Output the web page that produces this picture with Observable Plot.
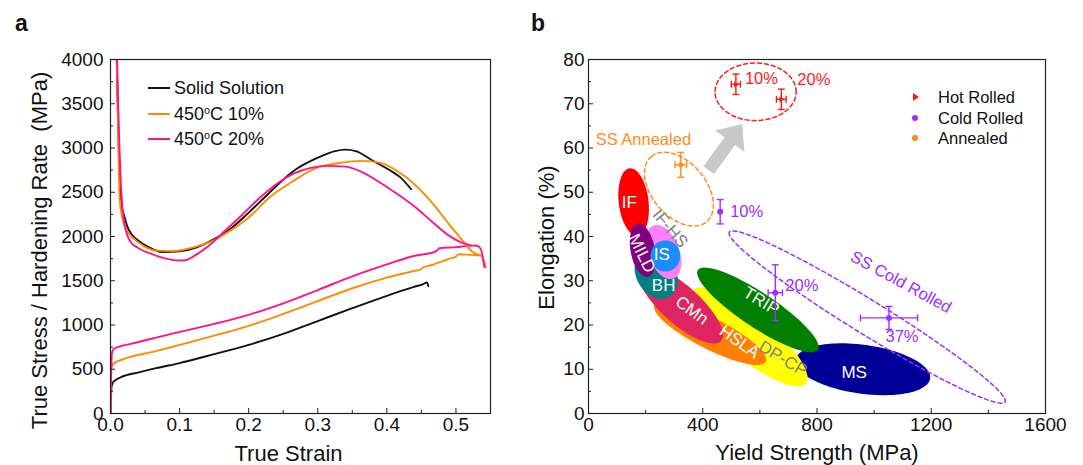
<!DOCTYPE html>
<html><head><meta charset="utf-8">
<script src="https://cdn.jsdelivr.net/npm/d3@7"></script>
<script src="https://cdn.jsdelivr.net/npm/@observablehq/plot@0.6"></script>
<style>
body{margin:0;background:#fff;font-family:"Liberation Sans",Arial,sans-serif;color:#111}
#wrap{position:relative;width:1083px;height:465px;display:flex;overflow:hidden}
#wrap svg{display:block}
.tag{position:absolute;font-weight:bold;font-size:23px;line-height:23px}
.lg{position:absolute;white-space:nowrap}
.lgA{font-size:18px;line-height:18px}
.lgB{font-size:16.5px;line-height:16.5px}
.ln{position:absolute;height:2px}
sup{font-size:0.6em;vertical-align:0.6em;line-height:0}
</style></head>
<body>
<div id="wrap"></div>
<script>
// ---------------- Panel a data ----------------
const ssStrain  = [0, 0.0015, 0.004, 0.016, 0.041, 0.066, 0.1, 0.14, 0.2, 0.25, 0.3, 0.35, 0.4, 0.439, 0.452, 0.458, 0.46];
const ssStress  = [0, 300, 357, 413, 465, 512, 570, 650, 775, 900, 1045, 1190, 1330, 1430, 1460, 1480, 1440];
const o10Strain = [0, 0.001, 0.0035, 0.021, 0.066, 0.1, 0.15, 0.2, 0.25, 0.3, 0.35, 0.4, 0.439, 0.45, 0.452, 0.464, 0.489, 0.5, 0.504, 0.515, 0.524, 0.536, 0.541, 0.5435];
const o10Stress = [0, 507, 560, 620, 705, 775, 880, 990, 1125, 1270, 1415, 1535, 1610, 1630, 1650, 1675, 1745, 1775, 1800, 1795, 1792, 1784, 1709, 1653];
const p20Strain = [0, 0.002, 0.005, 0.031, 0.066, 0.1, 0.15, 0.2, 0.25, 0.3, 0.35, 0.4, 0.439, 0.47, 0.474, 0.476, 0.5, 0.524, 0.53, 0.535, 0.538, 0.541];
const p20Stress = [0, 676, 732, 789, 858, 922, 1012, 1115, 1245, 1395, 1550, 1685, 1780, 1830, 1850, 1868, 1880, 1897, 1895, 1870, 1803, 1653];

const ssHStrain  = [0.009, 0.011, 0.013, 0.016, 0.02, 0.025, 0.03, 0.04, 0.055, 0.075, 0.1, 0.125, 0.15, 0.17, 0.2, 0.23, 0.265, 0.3, 0.325, 0.34, 0.355, 0.38, 0.405, 0.42, 0.435];
const ssHRate    = [4000, 3300, 2700, 2350, 2230, 2100, 2030, 1955, 1880, 1825, 1833, 1878, 1970, 2065, 2270, 2495, 2740, 2890, 2965, 2982, 2965, 2855, 2745, 2665, 2535];
const o10HStrain = [0.009, 0.011, 0.013, 0.016, 0.02, 0.028, 0.04, 0.066, 0.09, 0.12, 0.15, 0.18, 0.2, 0.23, 0.265, 0.3, 0.33, 0.365, 0.39, 0.415, 0.44, 0.465, 0.49, 0.51, 0.524, 0.535];
const o10HRate   = [4000, 3200, 2450, 2250, 2130, 2020, 1935, 1840, 1835, 1878, 1960, 2100, 2215, 2440, 2630, 2780, 2830, 2855, 2835, 2740, 2590, 2385, 2140, 1950, 1825, 1790];
const p20HStrain = [0.0095, 0.011, 0.013, 0.015, 0.017, 0.02, 0.025, 0.03, 0.04, 0.06, 0.08, 0.1, 0.11, 0.12, 0.14, 0.165, 0.19, 0.215, 0.24, 0.265, 0.29, 0.315, 0.34, 0.365, 0.39, 0.415, 0.44, 0.465, 0.49, 0.51, 0.522];
const p20HRate   = [4000, 3500, 3000, 2600, 2350, 2150, 2000, 1930, 1870, 1800, 1750, 1728, 1735, 1775, 1880, 2060, 2240, 2430, 2590, 2710, 2775, 2798, 2790, 2725, 2610, 2480, 2340, 2170, 2010, 1925, 1900];

const seriesA = ["Solid Solution", "450°C 10%", "450°C 20%"];
const colorsA = ["#111111", "#ff8c00", "#ff148c"];

const xTicksA = [0, 0.1, 0.2, 0.3, 0.4, 0.5];
const xMinorA = [0.05, 0.15, 0.25, 0.35, 0.45];
const yTicksA = [0, 500, 1000, 1500, 2000, 2500, 3000, 3500, 4000];
const yMinorA = [250, 750, 1250, 1750, 2250, 2750, 3250, 3750];

// ---------------- Panel b data ----------------
const regionNames  = ["MS", "DP-CP", "TRIP", "HSLA", "CMn", "BH", "IF", "IF-HS", "MILD", "IS"];
const regionYS     = [960, 563, 593, 426, 322, 237, 158, 263, 190, 269];
const regionEl     = [10.0, 17.3, 23.4, 18.1, 24.6, 31.5, 47.8, 36.5, 36.9, 35.6];
const regionTipYS  = [236, -198, -210, -195, -142, -47, -14, -35, -17.5, 52];
const regionTipEl  = [-2.1, 10.5, 9.0, 6.4, 8.2, 5.1, 7.6, 6.0, 6.0, 0];
const regionAspect = [0.36, 0.3, 0.24, 0.25, 0.35, 0.75, 0.44, 0.55, 0.45, 1.05];
const regionColors = ["#000099", "#ffff00", "#007f00", "#ff7f00", "#de2461", "#008080", "#ff0000", "#ff80ff", "#800080", "#1a8cff"];

const labelNames = ["IF", "MILD", "IS", "BH", "CMn", "HSLA", "TRIP", "MS"];
const labelYS    = [143, 187, 257, 263, 362, 529, 605, 930];
const labelEl    = [47.7, 36.2, 36.0, 29.0, 23.3, 16.2, 25.4, 9.2];
const labelAngle = [0, 64, 0, 0, 36, 35, 31, 0];
const grayNames  = ["IF-HS", "DP-CP"];
const grayYS     = [286, 681];
const grayEl     = [41.8, 12.4];
const grayAngle  = [50, 31];

const groupNames  = ["SS Hot Rolled", "SS Annealed", "SS Cold Rolled"];
const groupYS     = [585, 316.7, 975.7];
const groupEl     = [72.7, 50.7, 21.8];
const groupTipYS  = [142, -97, -482.7];
const groupTipEl  = [0, 7.35, 19.2];
const groupAspect = [0.71, 0.63, 0.105];
const groupColors = ["#ff1a1a", "#ff8c1a", "#9b30ff"];

const arrowFrom = [421, 55.0];
const arrowTo   = [538, 65.4];

const hotYS = [516, 675], hotYSErr = [16, 17], hotEl = [74.4, 71.0], hotElErr = [2.3, 2.3], hotLabels = ["10%", "20%"];
const coldYS = [461, 654, 1052], coldYSErr = [0, 25, 100], coldEl = [45.6, 27.3, 21.6], coldElErr = [2.75, 6.3, 2.6], coldLabels = ["10%", "20%", "37%"];
const annYS = [323], annYSErr = [20], annEl = [56.2], annElErr = [2.8];

const xTicksB = [0, 400, 800, 1200, 1600];
const xMinorB = [200, 600, 1000, 1400];
const yTicksB = [0, 10, 20, 30, 40, 50, 60, 70, 80];
const yMinorB = [5, 15, 25, 35, 45, 55, 65, 75];

// ---------------- helpers ----------------
const FONT = "'Liberation Sans', Arial, sans-serif";
const H = 465, MT = 59, MB = 52;
const innerH = H - MT - MB;
const intFmt = d3.format("d");

function inwardTicks(xMaj, xMin, yMaj, yMin, innerW) {
  return [
    Plot.tickX(xMaj, {x: d => d, insetTop: innerH - 5, stroke: "#222"}),
    Plot.tickX(xMin, {x: d => d, insetTop: innerH - 3, stroke: "#222"}),
    Plot.tickY(yMaj, {y: d => d, insetRight: innerW - 5, stroke: "#222"}),
    Plot.tickY(yMin, {y: d => d, insetRight: innerW - 3, stroke: "#222"})
  ];
}

// ---------------- Panel a ----------------
const WA = 540, MLA = 110, MRA = 50;
const curvesA = [];
[[ssStrain, ssStress], [o10Strain, o10Stress], [p20Strain, p20Stress]].forEach(([xs, ys], i) =>
  xs.forEach((x, j) => curvesA.push({s: seriesA[i], k: "stress" + i, x, y: ys[j]})));
[[ssHStrain, ssHRate], [o10HStrain, o10HRate], [p20HStrain, p20HRate]].forEach(([xs, ys], i) =>
  xs.forEach((x, j) => curvesA.push({s: seriesA[i], k: "hard" + i, x, y: ys[j]})));

const plotA = Plot.plot({
  width: WA, height: H, marginLeft: MLA, marginRight: MRA, marginTop: MT, marginBottom: MB,
  style: {fontFamily: FONT, fontSize: "19px", background: "white", color: "#111", overflow: "visible"},
  x: {domain: [0, 0.55]},
  y: {domain: [0, 4000]},
  color: {domain: seriesA, range: colorsA},
  marks: [
    Plot.line(curvesA, {x: "x", y: "y", z: "k", stroke: "s", strokeWidth: 1.9, curve: "monotone-x", clip: true}),
    Plot.frame({stroke: "#222", strokeWidth: 1.2}),
    ...inwardTicks(xTicksA, xMinorA, yTicksA, yMinorA, WA - MLA - MRA),
    Plot.axisX(xTicksA, {tickSize: 0, tickPadding: 4, tickFormat: d3.format(".1f"), label: null}),
    Plot.axisY(yTicksA, {tickSize: 0, tickPadding: 7, tickFormat: intFmt, label: null}),
    Plot.text(["True Strain"], {text: d => d, frameAnchor: "bottom", textAnchor: "middle", lineAnchor: "middle", dx: -12, dy: 40, fontSize: 22}),
    Plot.text(["True Stress / Hardening Rate \u00a0(MPa)"], {text: d => d, frameAnchor: "left", textAnchor: "middle", lineAnchor: "middle", rotate: -90, dx: -71, dy: 14, fontSize: 22})
  ]
});

// ---------------- Panel b ----------------
const WB = 543, MLB = 48, MRB = 38;
const innerWB = WB - MLB - MRB;
const kx = innerWB / 1600, ky = innerH / 80;

function ellipsePts(cx, cy, tx, ty, aspect, n = 96) {
  const ux = tx * kx, uy = ty * ky;
  const vx = -uy * aspect, vy = ux * aspect;
  return d3.range(n + 1).map(i => {
    const t = 2 * Math.PI * i / n;
    return {x: cx + (ux * Math.cos(t) + vx * Math.sin(t)) / kx,
            y: cy + (uy * Math.cos(t) + vy * Math.sin(t)) / ky};
  });
}
function arrowPts(from, to) {
  const x0 = from[0] * kx, y0 = from[1] * ky, x1 = to[0] * kx, y1 = to[1] * ky;
  const L = Math.hypot(x1 - x0, y1 - y0), ex = (x1 - x0) / L, ey = (y1 - y0) / L;
  const nx = -ey, ny = ex, hl = 21, hw = 18, sw = 6.5;
  const bx = x1 - ex * hl, by = y1 - ey * hl;
  const p = [[x0 + nx * sw, y0 + ny * sw], [bx + nx * sw, by + ny * sw], [bx + nx * hw, by + ny * hw], [x1, y1],
             [bx - nx * hw, by - ny * hw], [bx - nx * sw, by - ny * sw], [x0 - nx * sw, y0 - ny * sw], [x0 + nx * sw, y0 + ny * sw]];
  return p.map(([x, y]) => ({x: x / kx, y: y / ky}));
}
const hcap = {draw(ctx, size) { const r = Math.sqrt(size / Math.PI); ctx.moveTo(-r, 0); ctx.lineTo(r, 0); }};
const vcap = {draw(ctx, size) { const r = Math.sqrt(size / Math.PI); ctx.moveTo(0, -r); ctx.lineTo(0, r); }};

function pts(ys, ysErr, el, elErr) {
  return ys.map((x, i) => ({x, y: el[i], xe: ysErr[i], ye: elErr[i]}));
}
const hot = pts(hotYS, hotYSErr, hotEl, hotElErr);
const cold = pts(coldYS, coldYSErr, coldEl, coldElErr);
const ann = pts(annYS, annYSErr, annEl, annElErr);

function errBars(data, color, capR) {
  const hx = data.filter(d => d.xe > 0);
  return [
    Plot.ruleX(data, {x: "x", y1: d => d.y - d.ye, y2: d => d.y + d.ye, stroke: color, strokeWidth: 1.4}),
    Plot.dot(data, {x: "x", y: d => d.y - d.ye, symbol: hcap, r: capR, stroke: color, strokeWidth: 1.4}),
    Plot.dot(data, {x: "x", y: d => d.y + d.ye, symbol: hcap, r: capR, stroke: color, strokeWidth: 1.4}),
    Plot.ruleY(hx, {y: "y", x1: d => d.x - d.xe, x2: d => d.x + d.xe, stroke: color, strokeWidth: 1.4}),
    Plot.dot(hx, {x: d => d.x - d.xe, y: "y", symbol: vcap, r: capR, stroke: color, strokeWidth: 1.4}),
    Plot.dot(hx, {x: d => d.x + d.xe, y: "y", symbol: vcap, r: capR, stroke: color, strokeWidth: 1.4})
  ];
}

const regionMarks = regionNames.map((n, i) =>
  Plot.line(ellipsePts(regionYS[i], regionEl[i], regionTipYS[i], regionTipEl[i], regionAspect[i]),
    {x: "x", y: "y", fill: regionColors[i], stroke: "none", curve: "linear-closed"}));
const groupMarks = groupNames.map((n, i) =>
  Plot.line(ellipsePts(groupYS[i], groupEl[i], groupTipYS[i], groupTipEl[i], groupAspect[i]),
    {x: "x", y: "y", stroke: groupColors[i], strokeWidth: 1.5, strokeDasharray: "4,3", curve: "linear-closed"}));

const labels = labelNames.map((t, i) => ({t, x: labelYS[i], y: labelEl[i], a: labelAngle[i]}));
const grays = grayNames.map((t, i) => ({t, x: grayYS[i], y: grayEl[i], a: grayAngle[i]}));
const RED = "#ff1a1a", PURPLE = "#9b30ff", ORANGE = "#ff8c1a";

function ptLabel(d, text, color, dx, dy, anchor) {
  return Plot.text([d], {x: "x", y: "y", text: () => text, fill: color, dx, dy, textAnchor: anchor, fontSize: 16.5});
}

const plotB = Plot.plot({
  width: WB, height: H, marginLeft: MLB, marginRight: MRB, marginTop: MT, marginBottom: MB,
  style: {fontFamily: FONT, fontSize: "19px", background: "white", color: "#111", overflow: "visible"},
  x: {domain: [0, 1600]},
  y: {domain: [0, 80]},
  marks: [
    ...regionMarks,
    Plot.text(labels, {x: "x", y: "y", text: "t", rotate: "a", fill: "white", fontSize: 17}),
    Plot.text(grays, {x: "x", y: "y", text: "t", rotate: "a", fill: "#808080", fontSize: 17}),
    ...groupMarks,
    Plot.line(arrowPts(arrowFrom, arrowTo), {x: "x", y: "y", fill: "#c8c8c8", stroke: "none"}),
    Plot.text(["SS Annealed"], {x: () => 25, y: () => 61.8, text: d => d, textAnchor: "start", fill: ORANGE, fontSize: 16.5}),
    Plot.text(["SS Cold Rolled"], {x: () => 1094, y: () => 29.7, text: d => d, rotate: 28.6, fill: PURPLE, fontSize: 16.5}),
    ...errBars(hot, RED, 3.5),
    ...errBars(cold, PURPLE, 3.5),
    ...errBars(ann, ORANGE, 3.5),
    Plot.dot(hot, {x: "x", y: "y", symbol: "triangle2", rotate: 90, r: 3, fill: RED, stroke: "none"}),
    Plot.dot(cold, {x: "x", y: "y", r: 3, fill: PURPLE, stroke: "none"}),
    Plot.dot(ann, {x: "x", y: "y", r: 2.5, fill: ORANGE, stroke: "none"}),
    ptLabel(hot[0], hotLabels[0], RED, 9, -6, "start"),
    ptLabel(hot[1], hotLabels[1], RED, 16, -20, "start"),
    ptLabel(cold[0], coldLabels[0], PURPLE, 10, 0, "start"),
    ptLabel(cold[1], coldLabels[1], PURPLE, 10, -7, "start"),
    ptLabel(cold[2], coldLabels[2], PURPLE, 13, 19, "middle"),
    Plot.frame({stroke: "#222", strokeWidth: 1.2}),
    ...inwardTicks(xTicksB, xMinorB, yTicksB, yMinorB, innerWB),
    Plot.axisX(xTicksB, {tickSize: 0, tickPadding: 4, tickFormat: intFmt, label: null}),
    Plot.axisY(yTicksB, {tickSize: 0, tickPadding: 4, tickFormat: intFmt, label: null}),
    Plot.text(["Yield Strength (MPa)"], {text: d => d, frameAnchor: "bottom", textAnchor: "middle", lineAnchor: "middle", dy: 39, fontSize: 22}),
    Plot.text(["Elongation (%)"], {text: d => d, frameAnchor: "left", textAnchor: "middle", lineAnchor: "middle", rotate: -90, dx: -42, dy: 1, fontSize: 22})
  ]
});

const wrap = document.getElementById("wrap");
wrap.appendChild(plotA);
wrap.appendChild(plotB);

// panel tags
function addDiv(cls, html, left, top) {
  const d = document.createElement("div");
  d.className = cls; d.innerHTML = html;
  d.style.left = left + "px"; d.style.top = top + "px";
  wrap.appendChild(d); return d;
}
addDiv("tag", "a", 15, 12);
addDiv("tag", "b", 531, 12);

// legend a
const legARows = [88, 114, 139];
const legAText = ["Solid Solution", "450<sup>o</sup>C 10%", "450<sup>o</sup>C 20%"];
legARows.forEach((y, i) => {
  const ln = document.createElement("div");
  ln.className = "ln";
  ln.style.left = "148px"; ln.style.width = "22px"; ln.style.top = (y - 1) + "px";
  ln.style.background = colorsA[i];
  wrap.appendChild(ln);
  addDiv("lg lgA", legAText[i], 174, y - 9);
});

// legend b
const legBText = ["Hot Rolled", "Cold Rolled", "Annealed"];
const legBColor = [RED, PURPLE, ORANGE];
const legBRows = [97, 118, 138];
legBRows.forEach((y, i) => {
  const m = document.createElement("div");
  m.style.position = "absolute";
  if (i === 0) {
    m.style.left = "913px"; m.style.top = (y - 4) + "px";
    m.style.width = "0"; m.style.height = "0";
    m.style.borderTop = "4px solid transparent"; m.style.borderBottom = "4px solid transparent";
    m.style.borderLeft = "6px solid " + legBColor[i];
  } else {
    m.style.left = "912px"; m.style.top = (y - 3) + "px";
    m.style.width = "6px"; m.style.height = "6px"; m.style.borderRadius = "50%";
    m.style.background = legBColor[i];
  }
  wrap.appendChild(m);
  addDiv("lg lgB", legBText[i], 938, y - 8);
});
</script>
</body></html>
